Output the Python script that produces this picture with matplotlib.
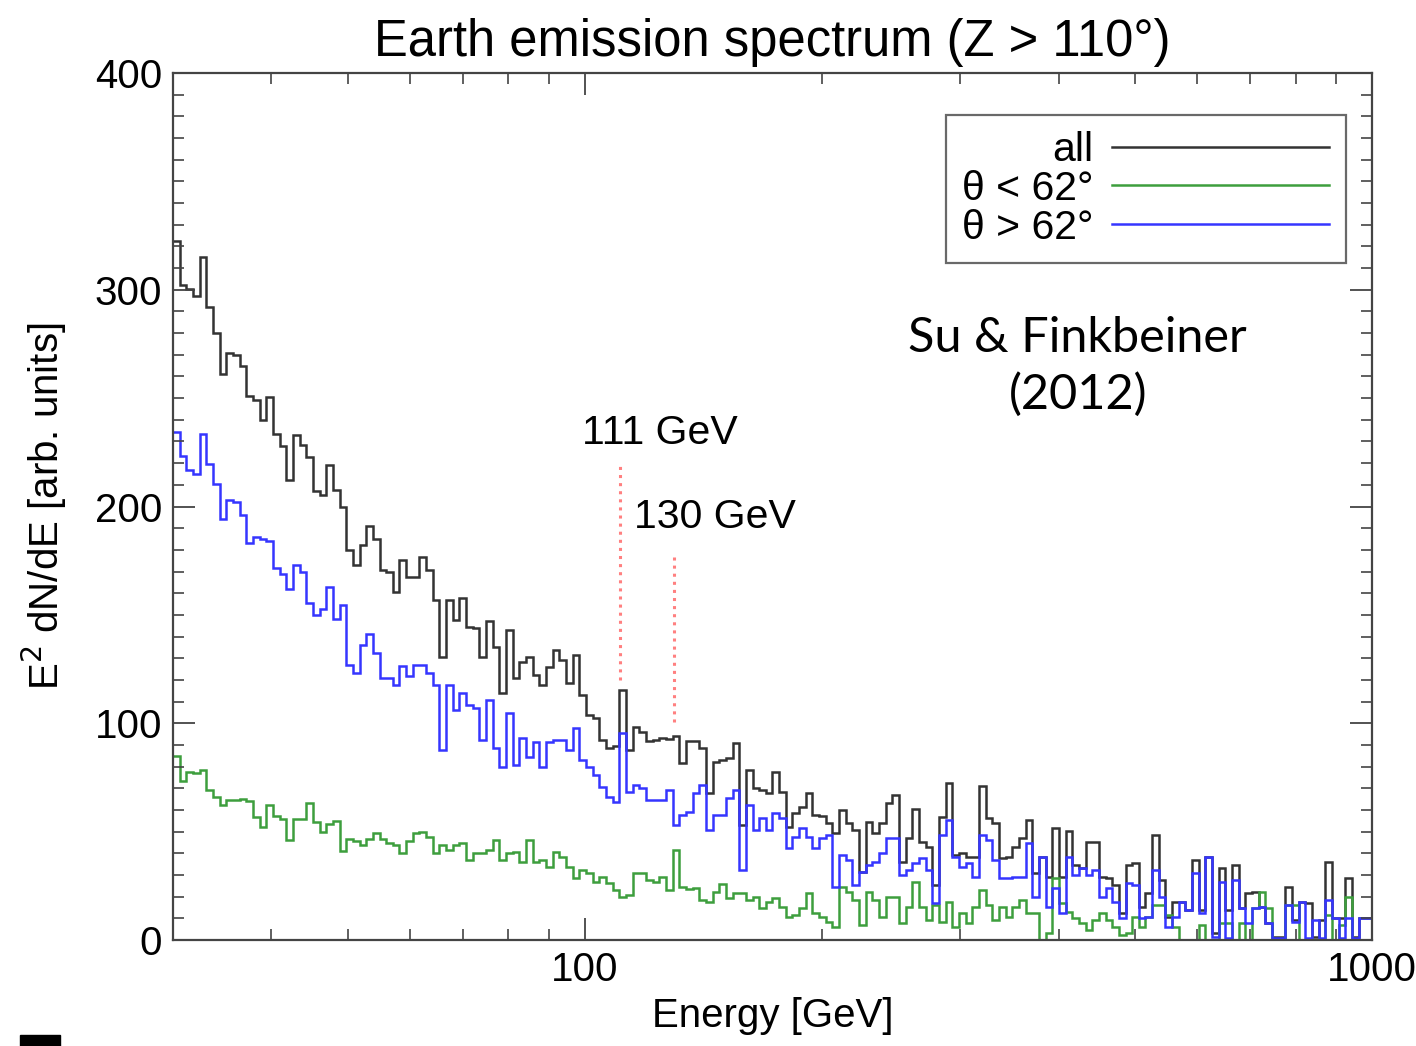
import numpy as np
import matplotlib
matplotlib.use("Agg")
import matplotlib.pyplot as plt
from matplotlib.ticker import MultipleLocator, NullFormatter, FixedLocator, FixedFormatter
from matplotlib.patches import Rectangle

plt.rcParams['font.family'] = ['Liberation Sans', 'DejaVu Sans']

# energy range of the histogram (GeV), log-spaced bins
e_min, e_max = 30.0, 1000.0

# E^2 dN/dE, low to high energy
counts_all = [
    322.7, 302.2, 300.4, 297.0, 315.2, 292.0, 279.9, 261.3, 271.0, 269.7, 265.0, 251.1,
    249.3, 240.0, 250.6, 233.5, 227.9, 212.1, 233.1, 228.3, 222.7, 207.1, 205.2, 219.0,
    207.4, 200.0, 179.9, 173.0, 182.3, 191.1, 185.1, 170.6, 169.9, 160.6, 175.5, 167.5,
    167.6, 176.8, 170.6, 156.8, 130.7, 156.8, 147.6, 157.6, 144.5, 143.8, 130.7, 147.1,
    135.3, 113.8, 143.0, 120.7, 128.4, 130.7, 122.2, 117.6, 126.1, 133.8, 129.2, 118.4,
    131.5, 113.1, 103.9, 102.3, 92.4, 88.5, 89.3, 115.4, 87.7, 98.5, 96.0, 92.0,
    92.3, 93.0, 92.6, 94.1, 81.5, 91.9, 91.9, 88.4, 67.7, 82.3, 83.1, 83.8,
    90.7, 53.0, 78.4, 70.0, 69.2, 67.7, 77.7, 68.4, 52.3, 58.4, 61.5, 67.9,
    57.7, 57.2, 53.8, 49.2, 60.0, 53.8, 50.8, 31.5, 54.6, 49.2, 53.8, 63.1,
    66.9, 36.0, 46.9, 60.3, 45.4, 43.1, 25.4, 56.9, 72.6, 39.2, 40.0, 38.5,
    38.5, 71.1, 56.1, 53.8, 37.7, 38.5, 43.1, 46.9, 55.4, 30.7, 38.5, 29.2,
    51.5, 29.2, 50.3, 34.6, 33.1, 45.4, 45.4, 29.2, 28.4, 25.4, 12.3, 34.6,
    35.4, 15.4, 21.5, 48.4, 27.7, 10.8, 17.7, 17.7, 13.8, 36.9, 13.8, 38.5,
    3.1, 33.1, 13.8, 34.6, 14.6, 21.5, 22.3, 15.4, 7.7, 1.5, 1.5, 24.6,
    9.2, 17.7, 16.9, 1.5, 9.2, 36.1, 10.0, 10.0, 28.4, 1.5, 10.0, 10.0,
]

counts_low = [  # theta < 62 deg
    85.1, 73.6, 77.3, 76.9, 78.3, 69.0, 66.2, 62.5, 64.7, 64.7, 65.2, 64.3,
    56.9, 52.2, 62.5, 57.2, 55.9, 46.1, 55.9, 55.9, 63.4, 54.6, 49.8, 53.5,
    55.0, 41.1, 46.7, 45.7, 43.9, 46.7, 49.4, 46.7, 44.8, 43.9, 40.1, 45.7,
    49.2, 50.0, 47.7, 40.0, 43.8, 41.5, 43.8, 44.6, 36.9, 40.0, 40.0, 41.5,
    46.1, 36.9, 40.0, 40.8, 36.1, 46.1, 36.1, 36.9, 33.8, 40.8, 38.4, 33.8,
    28.7, 32.3, 30.8, 27.0, 29.2, 26.2, 23.1, 20.0, 20.8, 30.8, 30.8, 27.7,
    26.9, 29.2, 23.1, 41.5, 24.6, 23.4, 23.8, 18.5, 17.7, 22.3, 25.8, 19.2,
    21.5, 21.5, 18.5, 20.0, 14.6, 17.7, 19.2, 15.4, 10.8, 11.5, 14.6, 21.5,
    12.3, 10.8, 8.5, 6.2, 24.6, 22.3, 18.5, 7.0, 22.3, 18.5, 10.8, 20.0,
    20.0, 7.7, 15.4, 26.9, 15.4, 9.2, 16.2, 8.5, 17.7, 6.2, 12.3, 7.7,
    15.4, 23.1, 16.2, 9.2, 15.4, 10.8, 15.4, 18.5, 12.3, 12.3, 0.0, 3.1,
    28.4, 16.9, 13.1, 10.0, 7.7, 4.6, 9.2, 12.3, 9.2, 6.2, 2.3, 3.1,
    10.8, 6.2, 10.8, 16.2, 16.2, 11.5, 6.2, 0.0, 0.0, 0.0, 6.9, 0.0,
    0.0, 7.7, 7.7, 0.0, 7.7, 0.0, 14.6, 22.3, 14.6, 0.0, 0.0, 16.2,
    16.2, 0.0, 0.0, 0.0, 0.0, 11.5, 0.0, 6.9, 20.0, 0.0, 0.0, 0.0,
]

counts_high = [  # theta > 62 deg
    234.4, 223.2, 216.7, 214.9, 233.5, 219.5, 210.2, 194.4, 202.8, 202.2, 196.3, 183.3,
    186.1, 184.8, 184.2, 171.7, 168.8, 161.9, 173.0, 169.9, 155.4, 149.8, 152.6, 162.8,
    148.3, 154.5, 127.1, 123.4, 135.9, 141.4, 132.2, 121.0, 121.0, 117.8, 126.6, 122.0,
    126.9, 126.9, 123.0, 117.7, 87.7, 117.7, 106.1, 113.8, 108.4, 106.9, 92.3, 110.7,
    88.4, 80.0, 104.6, 80.7, 93.0, 84.6, 91.5, 80.0, 91.5, 92.3, 92.3, 87.7,
    97.7, 83.0, 80.0, 76.1, 70.8, 66.2, 63.9, 95.4, 68.5, 71.5, 70.0, 64.6,
    64.6, 64.6, 69.2, 53.0, 57.7, 59.2, 67.7, 71.5, 50.8, 57.7, 57.7, 65.4,
    69.2, 32.3, 62.3, 50.8, 56.1, 50.8, 58.4, 56.1, 42.3, 47.7, 51.5, 47.7,
    42.3, 46.9, 48.4, 24.6, 39.2, 36.9, 25.4, 31.5, 34.6, 36.1, 40.0, 46.9,
    46.9, 30.0, 32.3, 35.4, 37.7, 32.3, 16.9, 48.4, 55.4, 38.5, 33.8, 35.4,
    29.2, 48.4, 46.1, 36.9, 28.4, 28.4, 29.2, 29.2, 44.6, 20.0, 38.5, 15.4,
    23.8, 12.3, 38.5, 30.0, 33.1, 30.0, 32.3, 20.0, 23.8, 17.7, 10.0, 26.2,
    25.4, 10.0, 10.8, 32.3, 20.0, 6.2, 10.8, 17.7, 13.8, 30.8, 12.3, 38.5,
    1.5, 26.9, 0.8, 27.7, 14.6, 7.7, 14.6, 15.4, 7.7, 0.8, 0.8, 16.2,
    8.5, 17.7, 0.8, 9.2, 0.8, 18.5, 10.0, 0.8, 10.0, 0.8, 10.0, 10.0,
]

# line features marked on the plot
line_energies = [111, 130]
line_bottoms = [120, 100.5]
line_tops = [220, 177.6]
line_labels = ['111 GeV', '130 GeV']
label_pos = [(124.5, 234), (146.2, 195)]

edges = np.logspace(np.log10(e_min), np.log10(e_max), len(counts_all) + 1)

fig = plt.figure(figsize=(14.16, 10.46), dpi=100)
ax = fig.add_axes([0.1222, 0.1013, 0.8467, 0.8289])

ax.stairs(counts_all, edges, color='#333333', lw=1.8, label='all', baseline=None)
ax.stairs(counts_low, edges, color='#3d9e3d', lw=1.8, label=u'\u03b8 < 62\u00b0', baseline=None)
ax.stairs(counts_high, edges, color='#3535ff', lw=1.8, label=u'\u03b8 > 62\u00b0', baseline=None)

ax.vlines(line_energies, line_bottoms, line_tops, colors='#ff8080', linestyles=':', lw=2.2)
for txt, (px, py) in zip(line_labels, label_pos):
    ax.text(px, py, txt, ha='center', va='center', fontsize=29.5)

ax.text(423, 264.6, 'Su & Finkbeiner\n(2012)', ha='center', va='center',
        fontsize=35, family=['Lato', 'DejaVu Sans'], linespacing=1.35)

ax.set_xscale('log')
ax.set_xlim(e_min, e_max)
ax.set_ylim(0, 400)

ax.xaxis.set_major_locator(FixedLocator([100, 1000]))
ax.xaxis.set_major_formatter(FixedFormatter(['100', '1000']))
ax.xaxis.set_minor_formatter(NullFormatter())
ax.yaxis.set_major_locator(MultipleLocator(100))
ax.yaxis.set_minor_locator(MultipleLocator(10))

ax.tick_params(which='both', direction='in', top=True, right=True, labelsize=29, color='#444444')
ax.tick_params(which='major', length=16, width=1.3, pad=8)
ax.tick_params(which='minor', length=8, width=1.2)
for sp in ax.spines.values():
    sp.set_color('#444444')
    sp.set_linewidth(1.6)

ax.set_title(u'Earth emission spectrum (Z > 110\u00b0)', fontsize=36.5, pad=12)
ax.set_xlabel('Energy [GeV]', fontsize=29, labelpad=6)
ax.set_ylabel('E$^2$ dN/dE [arb. units]', fontsize=29, labelpad=18)

leg = ax.legend(loc='upper right', bbox_to_anchor=(0.978, 0.952), borderaxespad=0,
                markerfirst=False, fontsize=29.5, handlelength=5.3, handletextpad=0.45,
                labelspacing=0.02, borderpad=0.4, fancybox=False, frameon=True)
leg.get_frame().set_edgecolor('#444444')
leg.get_frame().set_linewidth(1.6)

# small black mark at the bottom-left edge of the source image
fig.add_artist(Rectangle((20 / 1416, 0), 40 / 1416, 11 / 1046, color='black',
                         transform=fig.transFigure))

fig.savefig('out.png', dpi=100)
